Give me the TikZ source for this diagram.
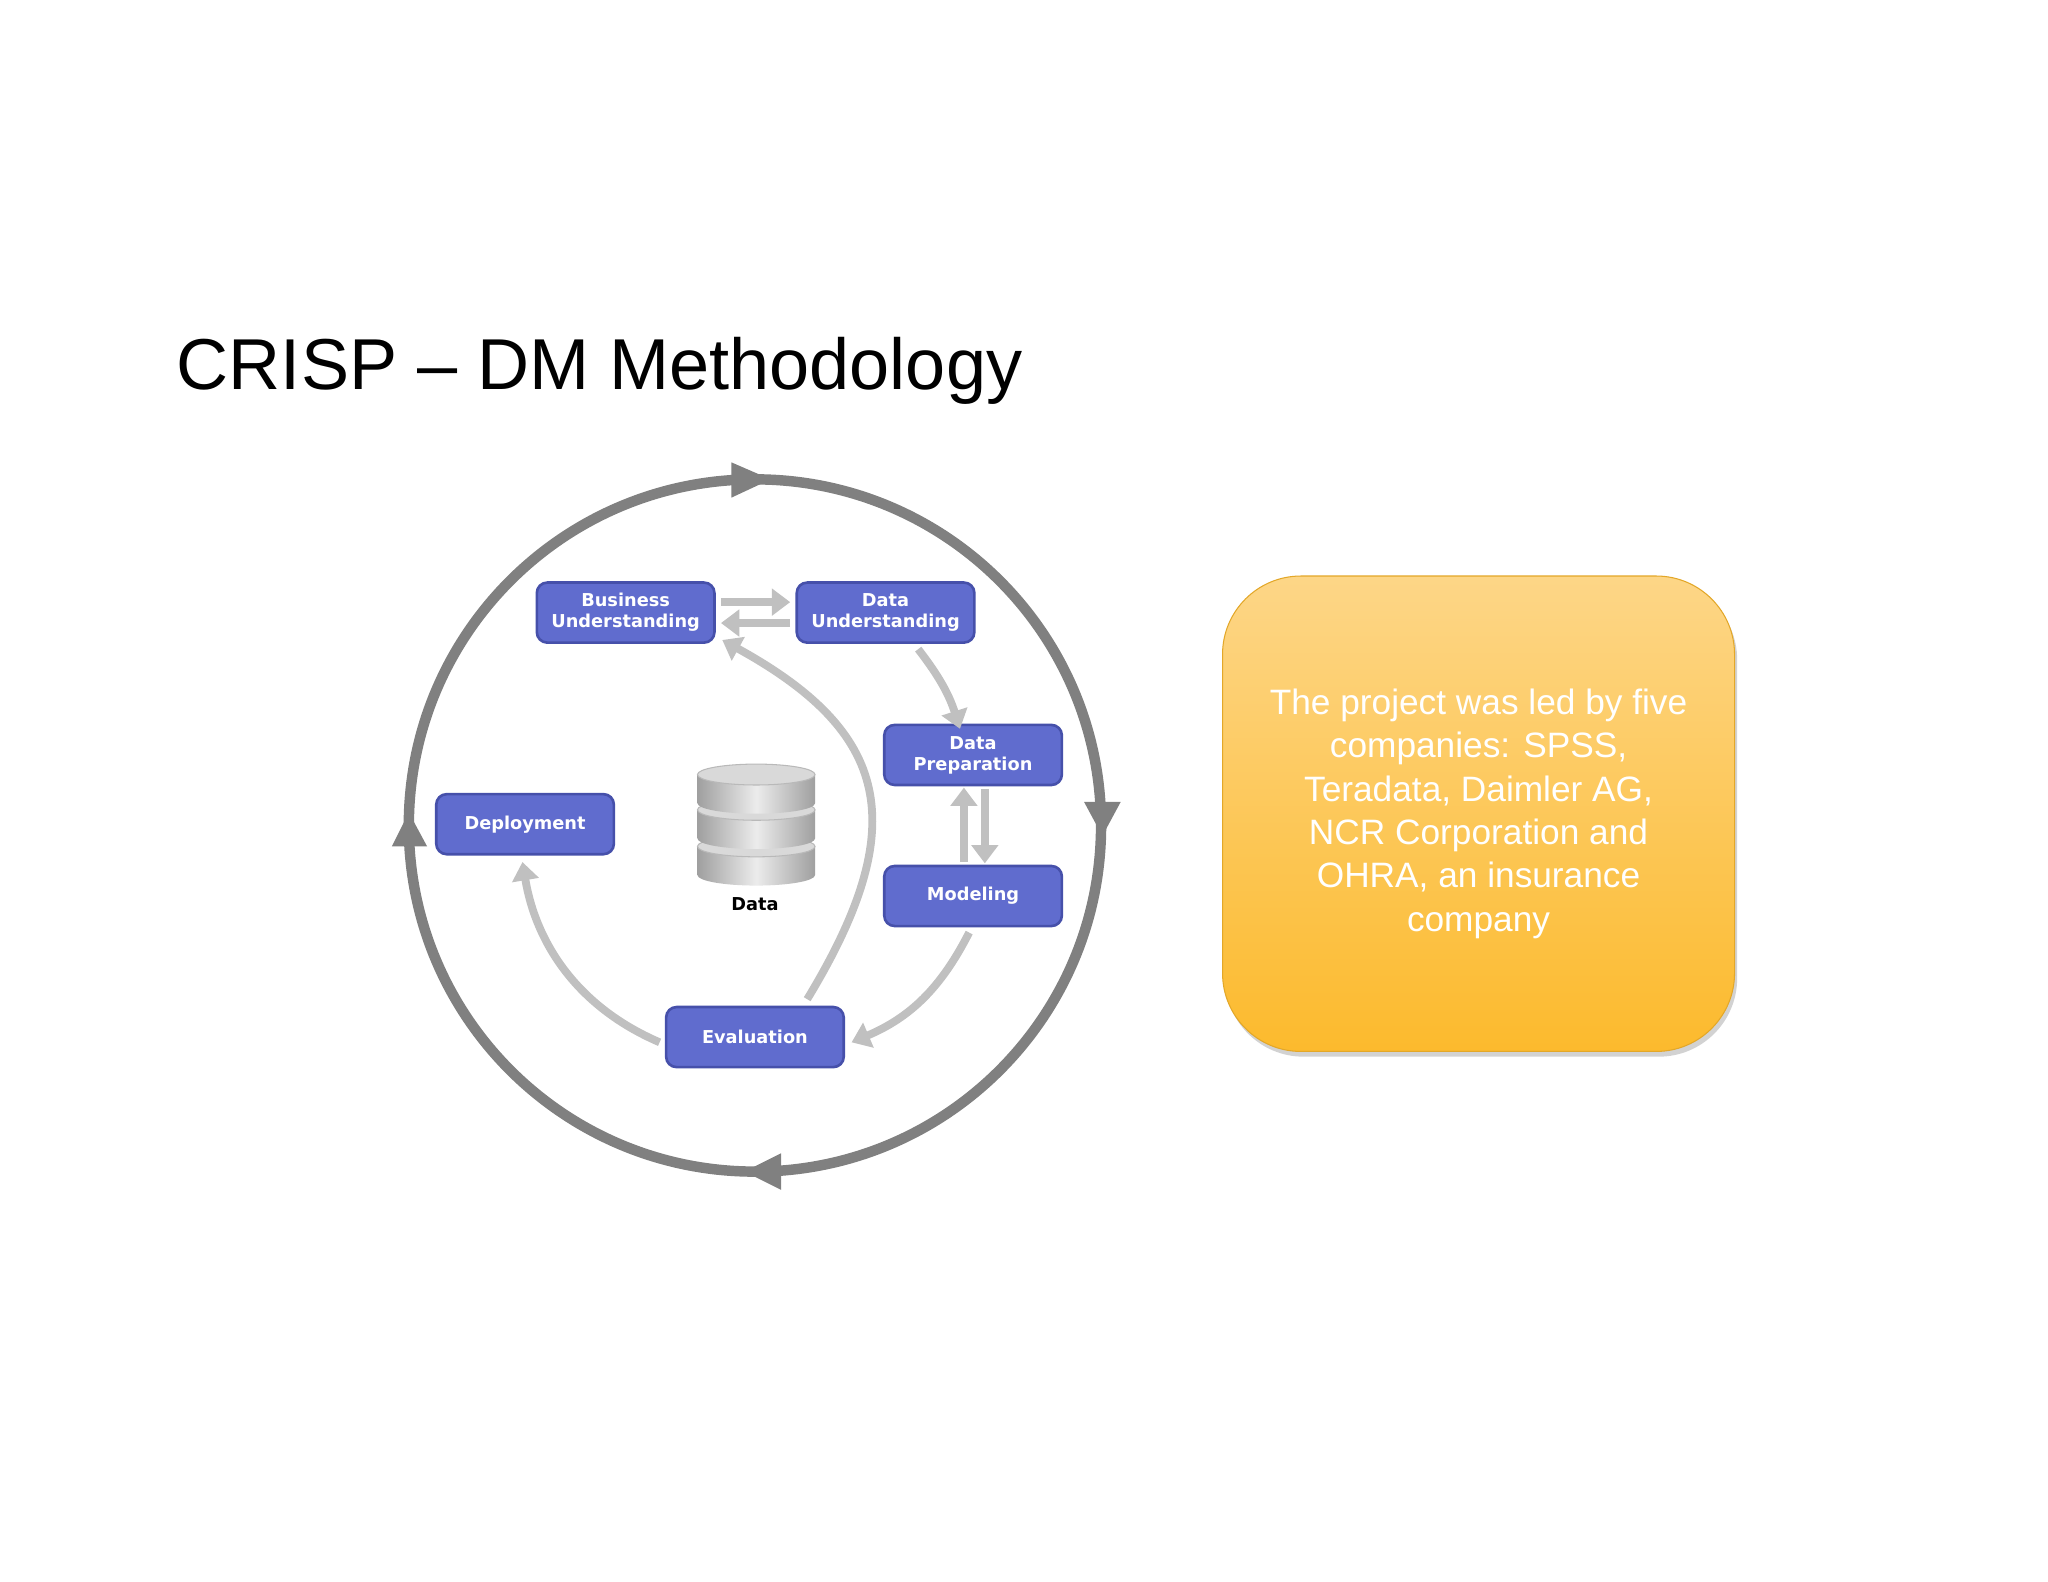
\documentclass[tikz,border=0pt]{standalone}
\usepackage{fontspec}
\setmainfont{Liberation Sans}
\newfontfamily\verd{DejaVu Sans}
\usetikzlibrary{arrows.meta,shadows,shapes.geometric}
\definecolor{boxblue}{RGB}{96,108,206}
\definecolor{boxedge}{RGB}{70,80,170}
\definecolor{ring}{RGB}{128,128,128}
\definecolor{lightarr}{RGB}{192,192,192}
\definecolor{orTop}{RGB}{253,214,135}
\definecolor{orBot}{RGB}{252,186,45}
\tikzset{
 phase/.style={draw=boxedge,line width=1pt,fill=boxblue,rounded corners=4pt,minimum width=68pt,minimum height=23pt,inner sep=1pt,text=white,font=\verd\bfseries\fontsize{6.8}{8}\selectfont,align=center},
 flow/.style={lightarr,line width=3pt,-{Triangle[length=7pt,width=10pt]}},
 ringarr/.style={ring,line width=4pt},
 tri/.style={fill=ring}
}
\begin{document}
\begin{tikzpicture}[x=0.5pt,y=-0.5pt]
\useasboundingbox (0,0) rectangle (1568,1211);
\fill[white] (0,0) rectangle (1568,1211);
\node[anchor=base west,inner sep=0,font=\fontsize{27.6}{32}\selectfont] (title) at (135,298) {CRISP -- DM Methodology};
% ring
\coordinate (c) at (578,632);
\draw[ringarr] (c) circle[radius=265];
\fill[tri] (560,354) -- (590,367) -- (560,381) -- cycle;
\fill[tri] (830,614) -- (858,614) -- (844,640) -- cycle;
\fill[tri] (598,883) -- (598,911) -- (570,897) -- cycle;
\fill[tri] (300,648) -- (327,648) -- (313,622) -- cycle;
% phases
\node[phase] (bu) at (479,469) {Business\\Understanding};
\node[phase] (du) at (678,469) {Data\\Understanding};
\node[phase] (dp) at (745,578) {Data\\Preparation};
\node[phase] (mo) at (745,686) {Modeling};
\node[phase] (ev) at (578,794) {Evaluation};
\node[phase] (de) at (402,631) {Deployment};
% database
\foreach \y in {648,620,593}{
 \shade[left color=gray!75,right color=gray!75,middle color=gray!15] (534,\y) -- (534,\y+22) arc[start angle=180,end angle=0,x radius=45,y radius=8] -- (624,\y) -- cycle;
 \fill[gray!30] (579,\y) ellipse[x radius=45,y radius=8];
 \draw[gray!55,line width=0.4pt] (579,\y) ellipse[x radius=45,y radius=8];
}
\node[font=\verd\bfseries\fontsize{6.8}{8}\selectfont] (data) at (578,692) {Data};
% flows
\draw[flow] ([xshift=2pt,yshift=4pt]bu.east) -- ([xshift=-2pt,yshift=4pt]du.west);
\draw[flow] ([xshift=-2pt,yshift=-4pt]du.west) -- ([xshift=2pt,yshift=-4pt]bu.east);
\draw[flow] (703,497) to[bend left=10] ([xshift=-5pt,yshift=-2pt]dp.north);
\draw[flow] (738,660) -- (738,603);
\draw[flow] (754,604) -- (754,661);
\draw[flow] (742,714) to[bend left=20] (652,798);
\draw[flow] (618,765) .. controls (700,630) and (680,560) .. (553,490);
\draw[flow] (505,798) .. controls (440,770) and (410,720) .. (400,660);
% orange box
\node[drop shadow={opacity=0.35,shadow xshift=1pt,shadow yshift=-2pt},rounded corners=30pt,top color=orTop,bottom color=orBot,draw=orBot!90!black,line width=0.4pt,minimum width=196pt,minimum height=182pt,align=center,text=white,font=\fontsize{13.5}{16.6}\selectfont] (note) at (1132,623) {The project was led by five\\companies: SPSS,\\Teradata, Daimler AG,\\NCR Corporation and\\OHRA, an insurance\\company};
\end{tikzpicture}
\end{document}
